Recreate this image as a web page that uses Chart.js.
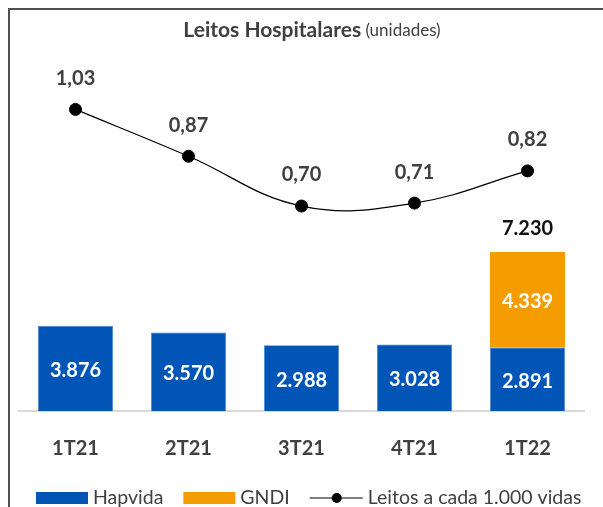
<!DOCTYPE html>
<html>
<head>
<meta charset="utf-8">
<script src="https://cdn.jsdelivr.net/npm/chart.js@4.4.1/dist/chart.umd.min.js"></script>
<style>
  html, body { margin: 0; padding: 0; background: #fff; overflow: hidden; }
  #frame { position: absolute; left: 8px; top: 8px; width: 700px; height: 600px; border-left: 2px solid #505050; border-top: 2px solid #505050; }
  #wrap { position: absolute; left: 0; top: 0; width: 603px; height: 507px; }
</style>
</head>
<body>
<div id="frame"></div>
<div id="wrap"><canvas id="leitosChart"></canvas></div>
<script>
// Dados do gráfico
const categories = ['1T21', '2T21', '3T21', '4T21', '1T22'];
const hapvidaData = [3876, 3570, 2988, 3028, 2891];
const gndiData = [null, null, null, null, 4339];
const leitosData = [1.03, 0.87, 0.70, 0.71, 0.82];

const FONT = 'Lato, "Open Sans", sans-serif';
const BLUE = '#0055b6';
const ORANGE = '#f59c00';

// formatação pt-BR feita à mão
function fmtMil(v) {
    return String(Math.round(v)).replace(/\B(?=(\d{3})+(?!\d))/g, '.');
}
function fmtDec(v) {
    return v.toFixed(2).replace('.', ',');
}

// rótulos, título e legenda
const labelsPlugin = {
    id: 'labels',
    afterDatasetsDraw(chart) {
        const ctx = chart.ctx;
        ctx.save();
        ctx.textAlign = 'center';
        ctx.textBaseline = 'middle';
        ctx.font = 'bold 20px ' + FONT;

        // valores dentro das barras
        [0, 1].forEach(di => {
            const meta = chart.getDatasetMeta(di);
            meta.data.forEach((bar, i) => {
                const v = chart.data.datasets[di].data[i];
                if (v == null) return;
                ctx.fillStyle = '#ffffff';
                ctx.fillText(fmtMil(v), bar.x, (bar.y + bar.base) / 2 + 2);
            });
        });

        // total acima da barra empilhada
        const gMeta = chart.getDatasetMeta(1);
        gMeta.data.forEach((bar, i) => {
            if (gndiData[i] == null) return;
            const total = hapvidaData[i] + gndiData[i];
            ctx.fillStyle = '#111111';
            ctx.fillText(fmtMil(total), bar.x, bar.y - 23);
        });

        // valores da linha
        const lMeta = chart.getDatasetMeta(2);
        lMeta.data.forEach((pt, i) => {
            ctx.fillStyle = '#404040';
            ctx.fillText(fmtDec(leitosData[i]), pt.x, pt.y - 31);
        });
        ctx.restore();
    },
    afterDraw(chart) {
        const ctx = chart.ctx;
        ctx.save();
        // título
        ctx.textBaseline = 'middle';
        ctx.font = 'bold 21px ' + FONT;
        const t1 = 'Leitos Hospitalares';
        const t2 = ' (unidades)';
        const w1 = ctx.measureText(t1).width;
        ctx.font = '17px ' + FONT;
        const w2 = ctx.measureText(t2).width;
        let x = 312 - (w1 + w2) / 2;
        ctx.textAlign = 'left';
        ctx.fillStyle = '#404040';
        ctx.font = 'bold 21px ' + FONT;
        ctx.fillText(t1, x, 30);
        ctx.font = '17px ' + FONT;
        ctx.fillText(t2, x + w1, 31);

        // legenda
        const ly = 498;
        const ds = chart.data.datasets;
        ctx.font = '19.5px ' + FONT;
        let lx = 36;
        [0, 1].forEach(di => {
            ctx.fillStyle = ds[di].backgroundColor;
            ctx.fillRect(lx, ly - 6, 52, 12);
            ctx.fillStyle = '#404040';
            ctx.fillText(ds[di].label, lx + 57, ly);
            lx += 57 + ctx.measureText(ds[di].label).width + 20;
        });
        ctx.strokeStyle = '#000';
        ctx.lineWidth = 1.2;
        ctx.beginPath();
        ctx.moveTo(lx, ly);
        ctx.lineTo(lx + 53, ly);
        ctx.stroke();
        ctx.fillStyle = '#000';
        ctx.beginPath();
        ctx.arc(lx + 27, ly, 5, 0, Math.PI * 2);
        ctx.fill();
        ctx.fillStyle = '#404040';
        ctx.fillText(ds[2].label, lx + 58, ly);
        ctx.restore();
    }
};

const ctx = document.getElementById('leitosChart').getContext('2d');
const leitosChart = new Chart(ctx, {
    data: {
        labels: categories,
        datasets: [
            {
                type: 'bar',
                label: 'Hapvida',
                data: hapvidaData,
                backgroundColor: BLUE,
                borderColor: '#4a86cf',
                borderWidth: 0.8,
                barPercentage: 0.664,
                categoryPercentage: 1,
                yAxisID: 'y',
                order: 2
            },
            {
                type: 'bar',
                label: 'GNDI',
                data: gndiData,
                backgroundColor: ORANGE,
                borderWidth: 0,
                barPercentage: 0.664,
                categoryPercentage: 1,
                yAxisID: 'y',
                order: 2
            },
            {
                type: 'line',
                label: 'Leitos a cada 1.000 vidas',
                data: leitosData,
                borderColor: '#000',
                borderWidth: 1.2,
                backgroundColor: '#000',
                pointRadius: 6,
                pointBorderWidth: 1,
                pointBackgroundColor: '#000',
                tension: 0.4,
                yAxisID: 'y2',
                order: 1
            }
        ]
    },
    options: {
        responsive: true,
        maintainAspectRatio: false,
        animation: false,
        layout: {
            padding: { left: 19, right: 19, top: 45, bottom: 28 }
        },
        plugins: {
            legend: { display: false },
            title: { display: false },
            tooltip: { enabled: false }
        },
        scales: {
            x: {
                stacked: true,
                grid: { display: false },
                border: { color: '#d9d9d9', width: 2 },
                ticks: {
                    padding: 18,
                    color: '#404040',
                    font: { family: FONT, size: 20, weight: 'bold' }
                }
            },
            y: {
                stacked: true,
                display: false,
                min: 0,
                max: 16640
            },
            y2: {
                display: false,
                min: 0,
                max: 1.25
            }
        }
    },
    plugins: [labelsPlugin]
});
</script>
</body>
</html>
